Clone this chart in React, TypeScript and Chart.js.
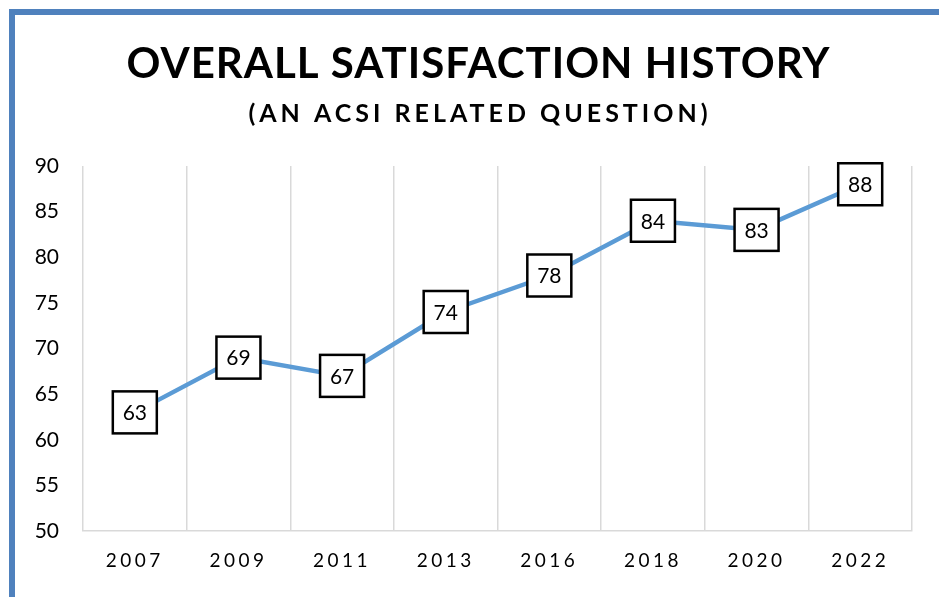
import React, { useEffect, useRef } from 'react';
import { Chart, registerables } from 'chart.js';

Chart.register(...registerables);

const categories = ['2007', '2009', '2011', '2013', '2016', '2018', '2020', '2022'];
const satisfaction = [63, 69, 67, 74, 78, 84, 83, 88];
const titleText = 'OVERALL SATISFACTION HISTORY';
const subtitleText = '(AN ACSI RELATED QUESTION)';
const yMin = 50;
const yMax = 90;
const yStep = 5;

const FONT = 'Lato, "Noto Sans", sans-serif';

const boxesPlugin = {
  id: 'boxesPlugin',
  beforeDraw(chart: any) {
    chart.ctx.letterSpacing = '0px';
  },
  afterDatasetsDraw(chart: any) {
    const ctx = chart.ctx;
    const meta = chart.getDatasetMeta(0);
    ctx.save();
    meta.data.forEach((pt: any, i: number) => {
      const w = 44;
      const h = 42;
      ctx.fillStyle = '#ffffff';
      ctx.fillRect(pt.x - w / 2, pt.y - h / 2, w, h);
      ctx.lineWidth = 2.5;
      ctx.strokeStyle = '#000000';
      ctx.strokeRect(pt.x - w / 2, pt.y - h / 2, w, h);
      ctx.fillStyle = '#000000';
      ctx.font = `21px ${FONT}`;
      ctx.textAlign = 'center';
      ctx.textBaseline = 'middle';
      ctx.fillText(String(satisfaction[i]), pt.x, pt.y + 1);
    });
    ctx.restore();
    // x tick labels (z: 1) are drawn after this with letter spacing
    ctx.letterSpacing = '3.5px';
  },
  afterDraw(chart: any) {
    const ctx = chart.ctx;
    ctx.save();
    ctx.fillStyle = '#000000';
    ctx.textAlign = 'center';
    ctx.textBaseline = 'alphabetic';
    ctx.letterSpacing = '1px';
    ctx.font = `bold 42px ${FONT}`;
    ctx.fillText(titleText, 478 + 0.5, 78);
    ctx.letterSpacing = '4px';
    ctx.font = `bold 25px ${FONT}`;
    ctx.fillText(subtitleText, 478 + 2, 122);
    ctx.restore();
    ctx.letterSpacing = '0px';
  },
};

export default function App() {
  const ref = useRef<HTMLCanvasElement | null>(null);

  useEffect(() => {
    if (!ref.current) return;
    const chart = new Chart(ref.current, {
      type: 'line',
      data: {
        labels: categories,
        datasets: [
          {
            data: satisfaction,
            borderColor: '#5B9BD5',
            borderWidth: 4.5,
            pointRadius: 0,
            pointHoverRadius: 0,
            tension: 0,
            fill: false,
          },
        ],
      },
      options: {
        animation: false,
        responsive: false,
        maintainAspectRatio: false,
        events: [],
        layout: { padding: { top: 166, left: 15, right: 27, bottom: 20 } },
        plugins: {
          legend: { display: false },
          title: { display: false },
          tooltip: { enabled: false },
        },
        scales: {
          x: {
            offset: true,
            grid: { display: true, color: '#d9d9d9', lineWidth: 1.5, drawTicks: false, offset: true },
            border: { display: true, color: '#d9d9d9', width: 1.5 },
            ticks: { color: '#000000', font: { family: FONT, size: 19 }, padding: 18, z: 1, maxRotation: 0 },
            afterFit: (s: any) => { s.height = 46; },
          },
          y: {
            min: yMin,
            max: yMax,
            ticks: { stepSize: yStep, color: '#000000', font: { family: FONT, size: 21 }, padding: 24 },
            grid: { display: false, drawTicks: false },
            border: { display: false },
            afterFit: (s: any) => { s.width = 68; },
          },
        },
      },
      plugins: [boxesPlugin],
    });
    return () => chart.destroy();
  }, []);

  return (
    <div style={{ position: 'fixed', left: 0, top: 0, width: 939, height: 597, background: '#ffffff', overflow: 'hidden' }}>
      <div
        style={{
          position: 'absolute',
          left: 9,
          top: 9,
          width: 1100,
          height: 800,
          border: '6px solid #4F81BD',
          boxSizing: 'border-box',
        }}
      />
      <canvas ref={ref} width={939} height={597} style={{ position: 'absolute', left: 0, top: 0, width: 939, height: 597 }} />
    </div>
  );
}
